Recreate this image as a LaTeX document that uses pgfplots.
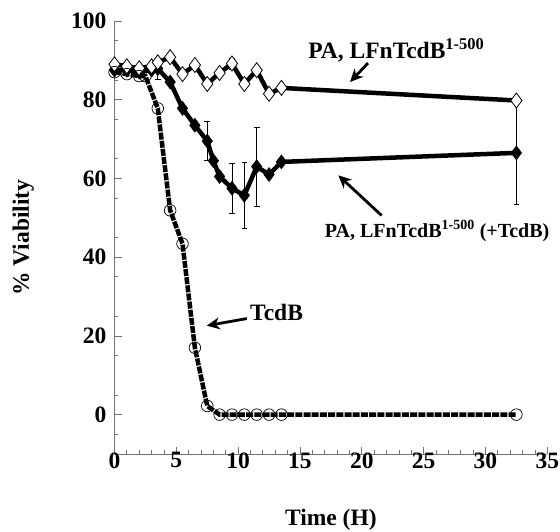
\documentclass[border=0pt]{standalone}
\usepackage{pgfplots}
\pgfplotsset{compat=1.18}
\usepackage{pgfplotstable}
\usepackage{fontspec}
\setmainfont{Liberation Serif}
\usetikzlibrary{arrows.meta}
\pgfplotstableread{
x y e
0 89 0
1 88.5 0
2 88 0
3 88.5 0
3.5 89.5 0
4.5 90.8 0
5.5 86.5 0
6.5 88.8 0
7.5 84 0
8.5 86.8 0
9.5 89.2 1.4
10.5 84 0
11.5 87.5 0
12.5 81.5 0
13.5 83 0
32.5 79.8 0
}\openDiam
\pgfplotstableread{
x y e
0 87.5 0
1 87.5 0
2 87 0
3 87.5 0
3.5 87.9 2.7
4.5 84.5 0
5.5 77.8 0
6.5 73.5 0
7.5 69.5 4.9
8 64.5 0
8.5 60.5 0
9.5 57.5 6.3
10.5 55.7 8.5
11.5 63 10
12.5 61 0
13.5 64.2 0
32.5 66.5 13
}\fillDiam
\pgfplotstableread{
x y
0 87
1 86.5
2 86
2.5 86
3.5 77.8
4.5 51.9
5.5 43.4
6.5 17
7.5 2.2
8.5 0
9.5 0
10.5 0
11.5 0
12.5 0
13.5 0
32.5 0
}\tcdb
\newcommand\bigf{\fontsize{23.5}{28}\selectfont\bfseries}
\newcommand\midf{\fontsize{20}{24}\selectfont\bfseries}
\begin{document}
\begin{tikzpicture}
\useasboundingbox (0,0) rectangle (560pt,532pt);
\begin{axis}[
  at={(114.5pt,78pt)}, anchor=south west,
  scale only axis, width=432.8pt, height=433pt,
  xmin=0, xmax=35, ymin=-10, ymax=100,
  clip=false,
  axis x line=bottom, axis y line=left,
  axis line style={black!55, line width=0.8pt, -},
  xtick={0,5,...,35}, ytick={0,20,...,100},
  minor xtick={0,1,...,35},
  minor ytick={-5,5,15,25,35,45,55,65,75,85,95},
  tick align=inside,
  major tick length=7pt, minor tick length=4pt,
  every tick/.style={black!55, line width=0.8pt},
  /pgf/number format/assume math mode=true,
  ticklabel style={font=\bigf},
  yticklabel style={xshift=-4.5pt},
  xticklabel style={yshift=5pt},
  xlabel={Time (H)},
  ylabel={\% Viability},
  xlabel style={font=\bigf, at={(axis description cs:0.5,-0.164)}, anchor=base},
  ylabel style={font=\bigf, at={(axis description cs:-0.211,0.5)}, anchor=center},
]
\addplot[black, line width=4.5pt, mark=diamond*, mark size=7pt,
  mark options={solid, fill=black, line width=0.5pt},
  error bars/.cd, y dir=both, y explicit,
  error bar style={black, line width=0.8pt, solid},
  error mark options={rotate=90, mark size=2.8pt, black, line width=0.8pt}]
  table[x=x, y=y, y error=e] {\fillDiam};
\addplot[black, line width=4.5pt, mark=diamond*, mark size=7.5pt,
  mark options={solid, fill=white, draw=black, line width=0.8pt},
  error bars/.cd, y dir=both, y explicit,
  error bar style={black, line width=0.8pt, solid},
  error mark options={rotate=90, mark size=2.8pt, black, line width=0.8pt}]
  table[x=x, y=y, y error=e] {\openDiam};
\addplot[black, line width=4.5pt, dash pattern=on 7pt off 1.2pt,
  mark=o, mark size=5.8pt,
  mark options={solid, draw=black, fill=none, line width=0.7pt}]
  table[x=x, y=y] {\tcdb};
% annotations
\node[anchor=base west, font=\bigf, inner sep=0pt] at (axis cs:15.66,90.5) {PA, LFnTcdB\textsuperscript{1-500}};
\draw[-{Stealth[length=13pt,width=12pt]}, line width=2.8pt] (axis cs:20.5,89.3) -- (axis cs:19.05,84.5);
\node[anchor=base west, font=\midf, inner sep=0pt] at (axis cs:17.0,45.1) {PA, LFnTcdB\textsuperscript{1-500} (+TcdB)};
\draw[-{Stealth[length=13pt,width=12pt]}, line width=2.8pt] (axis cs:21.6,50.6) -- (axis cs:18.1,60.8);
\node[anchor=base west, font=\bigf, inner sep=0pt] at (axis cs:10.96,23.9) {TcdB};
\draw[-{Stealth[length=13pt,width=12pt]}, line width=2.8pt] (axis cs:10.7,24.4) -- (axis cs:7.46,22.6);
\end{axis}
\end{tikzpicture}
\end{document}
